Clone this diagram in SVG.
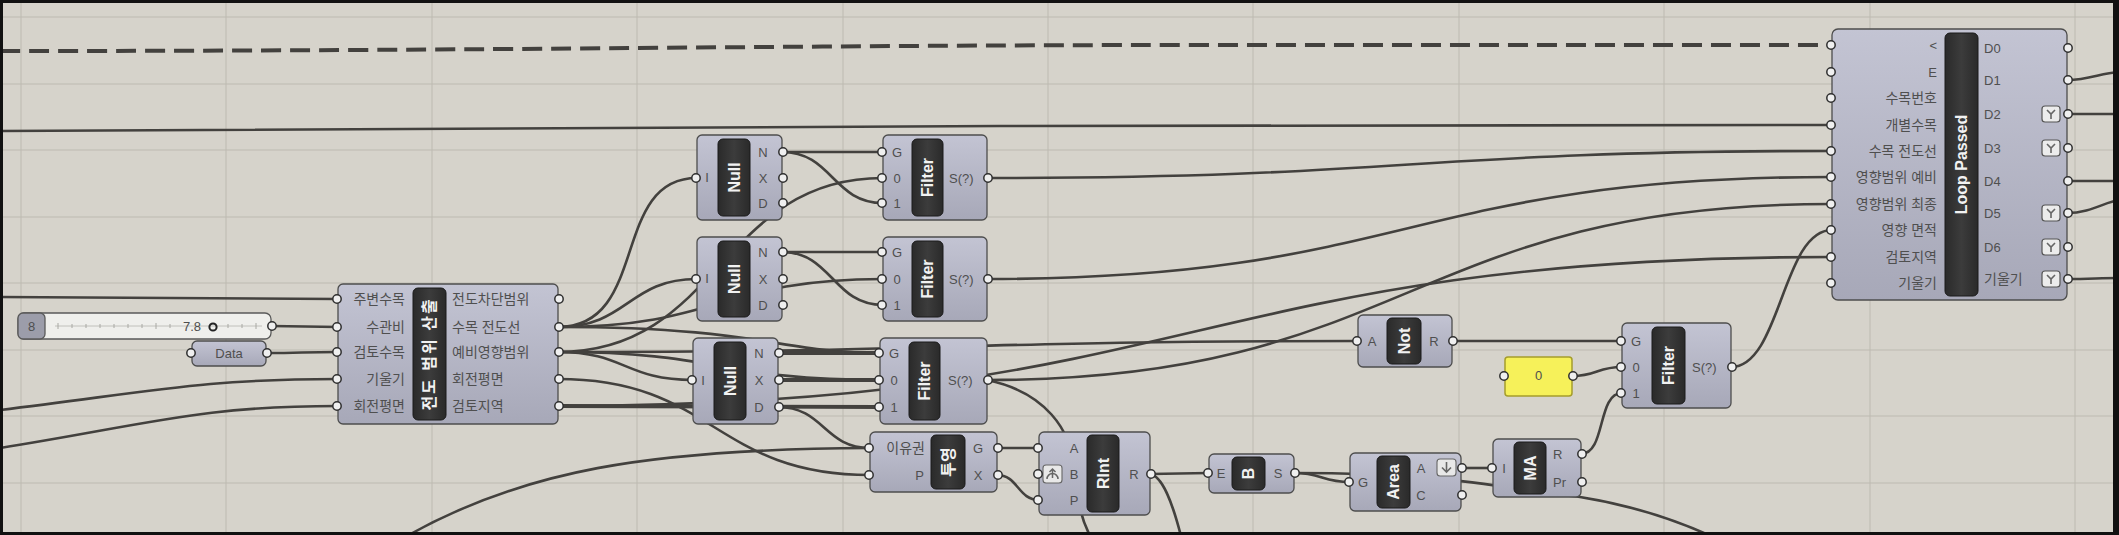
<svg xmlns="http://www.w3.org/2000/svg" width="2119" height="535" viewBox="0 0 2119 535">
<defs>
<linearGradient id="ng" x1="0" y1="0" x2="0" y2="1">
<stop offset="0" stop-color="#c3c4d3"/>
<stop offset="1" stop-color="#a7a8b8"/>
</linearGradient>
<linearGradient id="bg" x1="0" y1="0" x2="1" y2="0">
<stop offset="0" stop-color="#2a2a2a"/>
<stop offset="0.5" stop-color="#3c3c3c"/>
<stop offset="1" stop-color="#2a2a2a"/>
</linearGradient>
<g id="graft"><rect x="-9" y="-8" width="18" height="16" rx="3" fill="#ececec" stroke="#555" stroke-width="1.2"/><path d="M-4,-4 L0,0 L4,-4 M0,0 L0,5" fill="none" stroke="#666" stroke-width="1.6"/></g>
</defs>
<style>
.node{fill:url(#ng);stroke:#4d4d4d;stroke-width:1.3}
.bar{fill:url(#bg);stroke:#1a1a1a;stroke-width:1}
.port{fill:#efefef;stroke:#2f2f2f;stroke-width:1.5}
.wire{fill:none;stroke:#43413e;stroke-width:2.6}
.thick{stroke-width:3.8}
.dash{fill:none;stroke:#43413e;stroke-width:4;stroke-dasharray:20 9}
.grid{stroke:#bdbab1;stroke-width:1}
.lbl{font-family:"Liberation Sans","Noto Sans CJK KR",sans-serif;font-size:13px;fill:#4f4f4f}
.kr{font-family:"Liberation Sans","Noto Sans CJK KR",sans-serif;font-size:14px;fill:#4f4f4f}
.bt{font-family:"Liberation Sans","Noto Sans CJK KR",sans-serif;font-weight:bold;font-size:16px;fill:#f2f2f2;text-anchor:middle;dominant-baseline:central}
.c{text-anchor:middle}
.e{text-anchor:end}
</style>
<rect x="0" y="0" width="2119" height="535" fill="#d6d3cb"/>
<g id="grid">
<line class="grid" x1="21" y1="0" x2="21" y2="535"/><line class="grid" x1="226" y1="0" x2="226" y2="535"/><line class="grid" x1="432" y1="0" x2="432" y2="535"/><line class="grid" x1="637" y1="0" x2="637" y2="535"/><line class="grid" x1="843" y1="0" x2="843" y2="535"/><line class="grid" x1="1048" y1="0" x2="1048" y2="535"/><line class="grid" x1="1253" y1="0" x2="1253" y2="535"/><line class="grid" x1="1459" y1="0" x2="1459" y2="535"/><line class="grid" x1="1664" y1="0" x2="1664" y2="535"/><line class="grid" x1="1870" y1="0" x2="1870" y2="535"/><line class="grid" x1="2075" y1="0" x2="2075" y2="535"/>
<line class="grid" x1="0" y1="17" x2="2119" y2="17"/><line class="grid" x1="0" y1="84" x2="2119" y2="84"/><line class="grid" x1="0" y1="150" x2="2119" y2="150"/><line class="grid" x1="0" y1="217" x2="2119" y2="217"/><line class="grid" x1="0" y1="283" x2="2119" y2="283"/><line class="grid" x1="0" y1="350" x2="2119" y2="350"/><line class="grid" x1="0" y1="416" x2="2119" y2="416"/><line class="grid" x1="0" y1="483" x2="2119" y2="483"/>
</g>
<g id="connectors">
<path class="dash" d="M0,51 C500,51 800,45 1200,45 L1832,45"/>
<path class="wire" d="M0,131 C400,131 700,126 1000,126 L1832,125"/>
<path class="wire" d="M987,178 C1409,178 1409,151 1832,151"/>
<path class="wire" d="M987,279 C1409,279 1409,177 1832,177"/>
<path class="wire" d="M987,380 C1409,380 1409,204 1832,204"/>
<path class="wire" d="M558,406 C1195,406 1195,257 1832,257"/>
<path class="wire" d="M1731,367 C1781,367 1782,230 1832,230"/>
<path class="wire" d="M1452,341 L1622,341"/>
<path class="wire" d="M1572,376 C1597,376 1597,367 1622,367"/>
<path class="wire" d="M1581,454 C1606,454 1597,393 1622,393"/>
<path class="wire" d="M1461,468 L1493,468"/>
<path class="wire" d="M1294,473 C1322,473 1322,482 1350,482"/>
<path class="wire" d="M1294,473 C1450,473 1500,488 1580,497 C1630,505 1680,520 1730,545"/>
<path class="wire" d="M1150,474 L1209,473"/>
<path class="wire" d="M1150,474 C1162,476 1172,500 1182,540"/>
<path class="wire" d="M997,448 L1039,448"/>
<path class="wire" d="M997,475 C1018,475 1018,500 1039,500"/>
<path class="wire" d="M987,380 C1045,392 1072,430 1074,470 C1076,505 1084,525 1092,540"/>
<path class="wire" d="M0,297 C170,297 170,299 338,299"/>
<path class="wire" d="M271,326 C305,326 305,327 338,327"/>
<path class="wire" d="M266,353 C302,353 302,352 338,352"/>
<path class="wire" d="M0,410 C150,392 200,379 338,379"/>
<path class="wire" d="M0,448 C150,424 200,406 338,406"/>
<path class="wire" d="M558,327 C650,327 610,178 697,178"/>
<path class="wire" d="M558,327 C628,327 628,279 697,279"/>
<path class="wire" d="M558,327 C720,327 720,279 883,279"/>
<path class="wire" d="M558,327 C760,327 780,353 880,353"/>
<path class="wire" d="M558,352 C720,352 720,178 883,178"/>
<path class="wire" d="M558,352 C625,352 625,380 693,380"/>
<path class="wire" d="M558,352 C958,352 958,341 1358,341"/>
<path class="wire" d="M558,352 C720,352 720,380 880,380"/>
<path class="wire" d="M558,379 C714,379 714,475 870,475"/>
<path class="wire thick" d="M558,406 C720,406 720,407 880,407"/>
<path class="wire" d="M782,152 L883,152"/>
<path class="wire" d="M782,152 C832,152 833,203 883,203"/>
<path class="wire" d="M782,252 L883,252"/>
<path class="wire" d="M782,252 C832,252 833,305 883,305"/>
<path class="wire thick" d="M778,353 L880,353"/>
<path class="wire thick" d="M778,380 L880,380"/>
<path class="wire" d="M778,407 C824,407 824,448 870,448"/>
<path class="wire" d="M400,540 C520,470 650,449 870,448"/>
<path class="wire" d="M2067,80 C2090,80 2100,73 2119,72"/>
<path class="wire" d="M2067,114 L2119,114"/>
<path class="wire" d="M2067,181 L2119,181"/>
<path class="wire" d="M2067,213 C2090,213 2105,202 2119,200"/>
<path class="wire" d="M2067,279 C2090,279 2100,278 2119,278"/>
</g>
<g id="slider">
<rect x="18" y="313" width="253" height="26" rx="6" fill="#efefec" stroke="#5a5a5a" stroke-width="1.3"/>
<rect x="18" y="313" width="27" height="26" rx="5" fill="#9c9daa" stroke="#5a5a5a" stroke-width="1.3"/>
<text class="lbl c" x="31.5" y="330.5" font-size="12">8</text>
<line x1="55" y1="326" x2="262" y2="326" stroke="#b5b5b0" stroke-width="0.8"/>
<path d="M58,323v6M72,324v4M86,324v4M100,324v4M114,324v4M128,324v4M142,324v4M156,323v6M170,324v4M228,324v4M242,324v4M256,323v6" stroke="#a8a8a3" stroke-width="1"/>
<text class="lbl e" x="201" y="331" fill="#333">7.8</text>
<circle cx="213" cy="327" r="3.6" fill="none" stroke="#222" stroke-width="2"/>
<circle class="port" cx="272" cy="326" r="4.2"/>
</g>
<g id="data">
<rect class="node" x="192" y="341" width="74" height="25" rx="5"/>
<text class="lbl c" x="229" y="358">Data</text>
<circle class="port" cx="191" cy="353" r="4.2"/>
<circle class="port" cx="267" cy="353" r="4.2"/>
</g>
<g id="main">
<rect class="node" x="338" y="284" width="220" height="140" rx="5"/>
<rect class="bar" x="413" y="288" width="33" height="132" rx="5"/>
<text class="bt" transform="translate(429.5,354) rotate(-90)" letter-spacing="2">전도 범위 산출</text>
<text class="kr e" x="405" y="304">주변수목</text>
<text class="kr e" x="405" y="332">수관비</text>
<text class="kr e" x="405" y="357">검토수목</text>
<text class="kr e" x="405" y="384">기울기</text>
<text class="kr e" x="405" y="411">회전평면</text>
<text class="kr" x="452" y="304">전도차단범위</text>
<text class="kr" x="452" y="332">수목 전도선</text>
<text class="kr" x="452" y="357">예비영향범위</text>
<text class="kr" x="452" y="384">회전평면</text>
<text class="kr" x="452" y="411">검토지역</text>
<circle class="port" cx="337" cy="299" r="4.2"/><circle class="port" cx="337" cy="327" r="4.2"/><circle class="port" cx="337" cy="352" r="4.2"/><circle class="port" cx="337" cy="379" r="4.2"/><circle class="port" cx="337" cy="406" r="4.2"/>
<circle class="port" cx="559" cy="299" r="4.2"/><circle class="port" cx="559" cy="327" r="4.2"/><circle class="port" cx="559" cy="352" r="4.2"/><circle class="port" cx="559" cy="379" r="4.2"/><circle class="port" cx="559" cy="406" r="4.2"/>
</g>
<g id="null1">
<rect class="node" x="697" y="135" width="85" height="85" rx="5"/>
<rect class="bar" x="718" y="139" width="32" height="77" rx="5"/>
<text class="bt" transform="translate(734,177.5) rotate(-90)">Null</text>
<text class="lbl c" x="707" y="182">I</text>
<text class="lbl c" x="763" y="157">N</text><text class="lbl c" x="763" y="183">X</text><text class="lbl c" x="763" y="208">D</text>
<circle class="port" cx="696" cy="178" r="4.2"/>
<circle class="port" cx="783" cy="152" r="4.2"/><circle class="port" cx="783" cy="178" r="4.2"/><circle class="port" cx="783" cy="203" r="4.2"/>
</g>
<g id="null2">
<rect class="node" x="697" y="237" width="85" height="84" rx="5"/>
<rect class="bar" x="718" y="241" width="32" height="76" rx="5"/>
<text class="bt" transform="translate(734,279) rotate(-90)">Null</text>
<text class="lbl c" x="707" y="283">I</text>
<text class="lbl c" x="763" y="257">N</text><text class="lbl c" x="763" y="284">X</text><text class="lbl c" x="763" y="310">D</text>
<circle class="port" cx="696" cy="279" r="4.2"/>
<circle class="port" cx="783" cy="252" r="4.2"/><circle class="port" cx="783" cy="279" r="4.2"/><circle class="port" cx="783" cy="305" r="4.2"/>
</g>
<g id="null3">
<rect class="node" x="693" y="338" width="85" height="86" rx="5"/>
<rect class="bar" x="714" y="342" width="32" height="78" rx="5"/>
<text class="bt" transform="translate(730,381) rotate(-90)">Null</text>
<text class="lbl c" x="703" y="385">I</text>
<text class="lbl c" x="759" y="358">N</text><text class="lbl c" x="759" y="385">X</text><text class="lbl c" x="759" y="412">D</text>
<circle class="port" cx="692" cy="380" r="4.2"/>
<circle class="port" cx="779" cy="353" r="4.2"/><circle class="port" cx="779" cy="380" r="4.2"/><circle class="port" cx="779" cy="407" r="4.2"/>
</g>
<g id="filter1">
<rect class="node" x="883" y="135" width="104" height="85" rx="5"/>
<rect class="bar" x="912" y="139" width="31" height="77" rx="5"/>
<text class="bt" transform="translate(927.5,177.5) rotate(-90)">Filter</text>
<text class="lbl c" x="897" y="157">G</text><text class="lbl c" x="897" y="183">0</text><text class="lbl c" x="897" y="208">1</text>
<text class="lbl" x="949" y="183">S(?)</text>
<circle class="port" cx="882" cy="152" r="4.2"/><circle class="port" cx="882" cy="178" r="4.2"/><circle class="port" cx="882" cy="203" r="4.2"/>
<circle class="port" cx="988" cy="178" r="4.2"/>
</g>
<g id="filter2">
<rect class="node" x="883" y="237" width="104" height="84" rx="5"/>
<rect class="bar" x="912" y="241" width="31" height="76" rx="5"/>
<text class="bt" transform="translate(927.5,279) rotate(-90)">Filter</text>
<text class="lbl c" x="897" y="257">G</text><text class="lbl c" x="897" y="284">0</text><text class="lbl c" x="897" y="310">1</text>
<text class="lbl" x="949" y="284">S(?)</text>
<circle class="port" cx="882" cy="252" r="4.2"/><circle class="port" cx="882" cy="279" r="4.2"/><circle class="port" cx="882" cy="305" r="4.2"/>
<circle class="port" cx="988" cy="279" r="4.2"/>
</g>
<g id="filter3">
<rect class="node" x="880" y="338" width="107" height="86" rx="5"/>
<rect class="bar" x="909" y="342" width="31" height="78" rx="5"/>
<text class="bt" transform="translate(924.5,381) rotate(-90)">Filter</text>
<text class="lbl c" x="894" y="358">G</text><text class="lbl c" x="894" y="385">0</text><text class="lbl c" x="894" y="412">1</text>
<text class="lbl" x="948" y="385">S(?)</text>
<circle class="port" cx="879" cy="353" r="4.2"/><circle class="port" cx="879" cy="380" r="4.2"/><circle class="port" cx="879" cy="407" r="4.2"/>
<circle class="port" cx="988" cy="380" r="4.2"/>
</g>
<g id="project">
<rect class="node" x="870" y="432" width="127" height="60" rx="5"/>
<rect class="bar" x="931" y="435" width="34" height="54" rx="5"/>
<text class="bt" transform="translate(948,462) rotate(-90)" font-size="15">투영</text>
<text class="kr e" x="925" y="453">이유권</text>
<text class="lbl e" x="924" y="480">P</text>
<text class="lbl c" x="978" y="453">G</text><text class="lbl c" x="978" y="480">X</text>
<circle class="port" cx="869" cy="448" r="4.2"/><circle class="port" cx="869" cy="475" r="4.2"/>
<circle class="port" cx="998" cy="448" r="4.2"/><circle class="port" cx="998" cy="475" r="4.2"/>
</g>
<g id="rint">
<rect class="node" x="1039" y="432" width="111" height="83" rx="5"/>
<rect class="bar" x="1087" y="435" width="32" height="77" rx="5"/>
<text class="bt" transform="translate(1103,473.5) rotate(-90)">RInt</text>
<rect x="1043" y="465" width="19" height="18" rx="3" fill="#e8e8e8" stroke="#666" stroke-width="1.1"/>
<path d="M1047,479 A5.5,5.5 0 0 1 1058,479 M1052.5,478 L1052.5,469 M1049.5,472 L1052.5,469 L1055.5,472" fill="none" stroke="#666" stroke-width="1.5"/>
<text class="lbl c" x="1074" y="453">A</text><text class="lbl c" x="1074" y="479">B</text><text class="lbl c" x="1074" y="505">P</text>
<text class="lbl c" x="1134" y="479">R</text>
<circle class="port" cx="1038" cy="448" r="4.2"/><circle class="port" cx="1038" cy="474" r="4.2"/><circle class="port" cx="1038" cy="500" r="4.2"/>
<circle class="port" cx="1151" cy="474" r="4.2"/>
</g>
<g id="bnode">
<rect class="node" x="1209" y="454" width="85" height="39" rx="5"/>
<rect class="bar" x="1232" y="457" width="33" height="33" rx="5"/>
<text class="bt" transform="translate(1248.5,473.5) rotate(-90)">B</text>
<text class="lbl c" x="1221" y="478">E</text><text class="lbl c" x="1278" y="478">S</text>
<circle class="port" cx="1208" cy="473" r="4.2"/><circle class="port" cx="1295" cy="473" r="4.2"/>
</g>
<g id="area">
<rect class="node" x="1350" y="453" width="111" height="58" rx="5"/>
<rect class="bar" x="1377" y="456" width="33" height="52" rx="5"/>
<text class="bt" transform="translate(1393.5,482) rotate(-90)">Area</text>
<text class="lbl c" x="1363" y="487">G</text>
<text class="lbl c" x="1421" y="473">A</text><text class="lbl c" x="1421" y="500">C</text>
<rect x="1437" y="459" width="19" height="17" rx="3" fill="#e8e8e8" stroke="#666" stroke-width="1.1"/>
<path d="M1446.5,462 L1446.5,472 M1442,467.5 L1446.5,472 L1451,467.5" fill="none" stroke="#666" stroke-width="1.6"/>
<circle class="port" cx="1349" cy="482" r="4.2"/>
<circle class="port" cx="1462" cy="468" r="4.2"/><circle class="port" cx="1462" cy="495" r="4.2"/>
</g>
<g id="ma">
<rect class="node" x="1493" y="439" width="88" height="58" rx="5"/>
<rect class="bar" x="1514" y="442" width="32" height="52" rx="5"/>
<text class="bt" transform="translate(1530,468) rotate(-90)">MA</text>
<text class="lbl c" x="1504" y="473">I</text>
<text class="lbl" x="1553" y="459">R</text><text class="lbl" x="1553" y="487">Pr</text>
<circle class="port" cx="1492" cy="468" r="4.2"/>
<circle class="port" cx="1582" cy="454" r="4.2"/><circle class="port" cx="1582" cy="482" r="4.2"/>
</g>
<g id="not">
<rect class="node" x="1358" y="315" width="94" height="52" rx="5"/>
<rect class="bar" x="1387" y="318" width="34" height="46" rx="5"/>
<text class="bt" transform="translate(1404,341) rotate(-90)">Not</text>
<text class="lbl c" x="1372" y="346">A</text><text class="lbl c" x="1434" y="346">R</text>
<circle class="port" cx="1357" cy="341" r="4.2"/><circle class="port" cx="1453" cy="341" r="4.2"/>
</g>
<g id="panel">
<rect x="1505" y="357" width="67" height="39" rx="3" fill="#f6f15a" stroke="#a59d2c" stroke-width="1.5"/>
<text class="lbl c" x="1538.5" y="380" font-size="11" fill="#b5a83a">0</text>
<circle class="port" cx="1504" cy="376" r="4.2"/><circle class="port" cx="1573" cy="376" r="4.2"/>
</g>
<g id="filter4">
<rect class="node" x="1622" y="323" width="109" height="85" rx="5"/>
<rect class="bar" x="1652" y="327" width="33" height="77" rx="5"/>
<text class="bt" transform="translate(1668.5,365.5) rotate(-90)">Filter</text>
<text class="lbl c" x="1636" y="346">G</text><text class="lbl c" x="1636" y="372">0</text><text class="lbl c" x="1636" y="398">1</text>
<text class="lbl" x="1692" y="372">S(?)</text>
<circle class="port" cx="1621" cy="341" r="4.2"/><circle class="port" cx="1621" cy="367" r="4.2"/><circle class="port" cx="1621" cy="393" r="4.2"/>
<circle class="port" cx="1732" cy="367" r="4.2"/>
</g>
<g id="loop">
<rect class="node" x="1832" y="29" width="235" height="271" rx="6"/>
<rect class="bar" x="1945" y="33" width="33" height="263" rx="5"/>
<text class="bt" transform="translate(1961.5,164.5) rotate(-90)" font-size="17">Loop Passed</text>
<text class="lbl e" x="1937" y="50">&lt;</text>
<text class="lbl e" x="1937" y="77">E</text>
<text class="kr e" x="1937" y="103">수목번호</text>
<text class="kr e" x="1937" y="130">개별수목</text>
<text class="kr e" x="1937" y="156">수목 전도선</text>
<text class="kr e" x="1937" y="182">영향범위 예비</text>
<text class="kr e" x="1937" y="209">영향범위 최종</text>
<text class="kr e" x="1937" y="235">영향 면적</text>
<text class="kr e" x="1937" y="262">검토지역</text>
<text class="kr e" x="1937" y="288">기울기</text>
<text class="lbl" x="1984" y="53">D0</text>
<text class="lbl" x="1984" y="85">D1</text>
<text class="lbl" x="1984" y="119">D2</text>
<text class="lbl" x="1984" y="153">D3</text>
<text class="lbl" x="1984" y="186">D4</text>
<text class="lbl" x="1984" y="218">D5</text>
<text class="lbl" x="1984" y="252">D6</text>
<text class="kr" x="1984" y="284">기울기</text>
<use href="#graft" x="2051" y="114"/>
<use href="#graft" x="2051" y="148"/>
<use href="#graft" x="2051" y="213"/>
<use href="#graft" x="2051" y="247"/>
<use href="#graft" x="2051" y="279"/>
<circle class="port" cx="1831" cy="45" r="4.2"/><circle class="port" cx="1831" cy="72" r="4.2"/><circle class="port" cx="1831" cy="98" r="4.2"/><circle class="port" cx="1831" cy="125" r="4.2"/><circle class="port" cx="1831" cy="151" r="4.2"/><circle class="port" cx="1831" cy="177" r="4.2"/><circle class="port" cx="1831" cy="204" r="4.2"/><circle class="port" cx="1831" cy="230" r="4.2"/><circle class="port" cx="1831" cy="257" r="4.2"/><circle class="port" cx="1831" cy="283" r="4.2"/>
<circle class="port" cx="2068" cy="48" r="4.2"/><circle class="port" cx="2068" cy="80" r="4.2"/><circle class="port" cx="2068" cy="114" r="4.2"/><circle class="port" cx="2068" cy="148" r="4.2"/><circle class="port" cx="2068" cy="181" r="4.2"/><circle class="port" cx="2068" cy="213" r="4.2"/><circle class="port" cx="2068" cy="247" r="4.2"/><circle class="port" cx="2068" cy="279" r="4.2"/>
</g>
<g id="frame">
<rect x="1.5" y="1.5" width="2116" height="532" fill="none" stroke="#111" stroke-width="3"/>
<rect x="2113" y="0" width="6" height="535" fill="#111"/>
</g>
</svg>
